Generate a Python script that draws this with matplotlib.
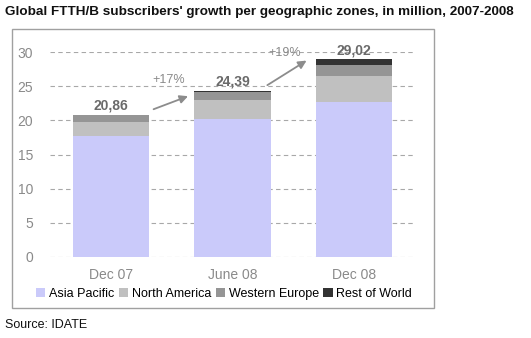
import matplotlib
matplotlib.use("Agg")
import matplotlib.pyplot as plt
from matplotlib.patches import Rectangle, Patch

plt.rcParams['font.family'] = ['Liberation Sans', 'DejaVu Sans']

categories = ["Dec 07", "June 08", "Dec 08"]
asia_pacific = [17.70, 20.25, 22.75]
north_america = [2.00, 2.75, 3.80]
western_europe = [1.10, 1.10, 1.60]
rest_of_world = [0.06, 0.29, 0.87]
totals_labels = ["20,86", "24,39", "29,02"]
growth_labels = ["+17%", "+19%"]
yticks = [0, 5, 10, 15, 20, 25, 30]

series = [
    ("Asia Pacific", asia_pacific, "#CACAFA"),
    ("North America", north_america, "#C0C0C0"),
    ("Western Europe", western_europe, "#959595"),
    ("Rest of World", rest_of_world, "#333333"),
]

W, H = 531, 338
fig = plt.figure(figsize=(W / 100, H / 100), dpi=100)
ax = fig.add_axes([50 / W, 1 - 256.7 / H, 365 / W, (256.7 - 52.3) / H])

x = list(range(len(categories)))
bottom = [0.0] * len(categories)
for name, vals, col in series:
    ax.bar(x, vals, width=0.63, bottom=bottom, color=col, label=name, zorder=2)
    bottom = [b + v for b, v in zip(bottom, vals)]

ax.set_xlim(-0.5, 2.5)
ax.set_ylim(0, 30)
ax.set_yticks(yticks)
ax.set_xticks(x)
ax.set_xticklabels(categories)
ax.tick_params(axis='both', length=0, colors="#8A8A8A", labelsize=10)
ax.tick_params(axis='y', pad=12)
ax.tick_params(axis='x', pad=8)
for s in ax.spines.values():
    s.set_visible(False)
ax.yaxis.grid(True, linestyle=(0, (4, 3)), color="#A8A8A8", linewidth=0.8, zorder=0)
ax.set_axisbelow(True)

# total labels
for i, (t, lab) in enumerate(zip(bottom, totals_labels)):
    ax.text(i, t + 0.25, lab, ha="center", va="bottom", fontsize=10,
            fontweight="bold", color="#6A6A6A", clip_on=False, zorder=3)

# growth arrows
arrow_kw = dict(arrowstyle="-|>", color="#8C8C8C", lw=1.3, mutation_scale=12)
ax.annotate("", xy=(0.656, 23.7), xytext=(0.33, 21.5), arrowprops=arrow_kw,
            annotation_clip=False)
ax.annotate("", xy=(1.628, 29.0), xytext=(1.267, 24.96), arrowprops=arrow_kw,
            annotation_clip=False)
ax.text(0.478, 25.9, growth_labels[0], ha="center", va="center", fontsize=9,
        color="#8A8A8A", clip_on=False)
ax.text(1.43, 29.9, growth_labels[1], ha="center", va="center", fontsize=9,
        color="#8A8A8A", clip_on=False)

# frame
fig.patches.append(Rectangle((12 / W, 1 - 308 / H), (434 - 12) / W, (308 - 29) / H,
                             transform=fig.transFigure, fill=False,
                             edgecolor="#A0A0A0", linewidth=1.0))

# legend
handles = [Patch(facecolor=c, edgecolor="none", label=n) for n, _, c in series]
fig.legend(handles=handles, loc="center", bbox_to_anchor=(224 / W, 1 - 294 / H),
           ncol=4, frameon=False, fontsize=9, handlelength=0.75, handleheight=0.75,
           handletextpad=0.3, columnspacing=0.35, borderpad=0)

fig.text(5 / W, 1 - 12 / H, "Global FTTH/B subscribers' growth per geographic zones, in million, 2007-2008",
         ha="left", va="center", fontsize=9.7, fontweight="bold", color="#111111")
fig.text(5 / W, 1 - 325 / H, "Source: IDATE", ha="left", va="center", fontsize=9,
         color="#111111")

fig.savefig("out.png", dpi=100)
